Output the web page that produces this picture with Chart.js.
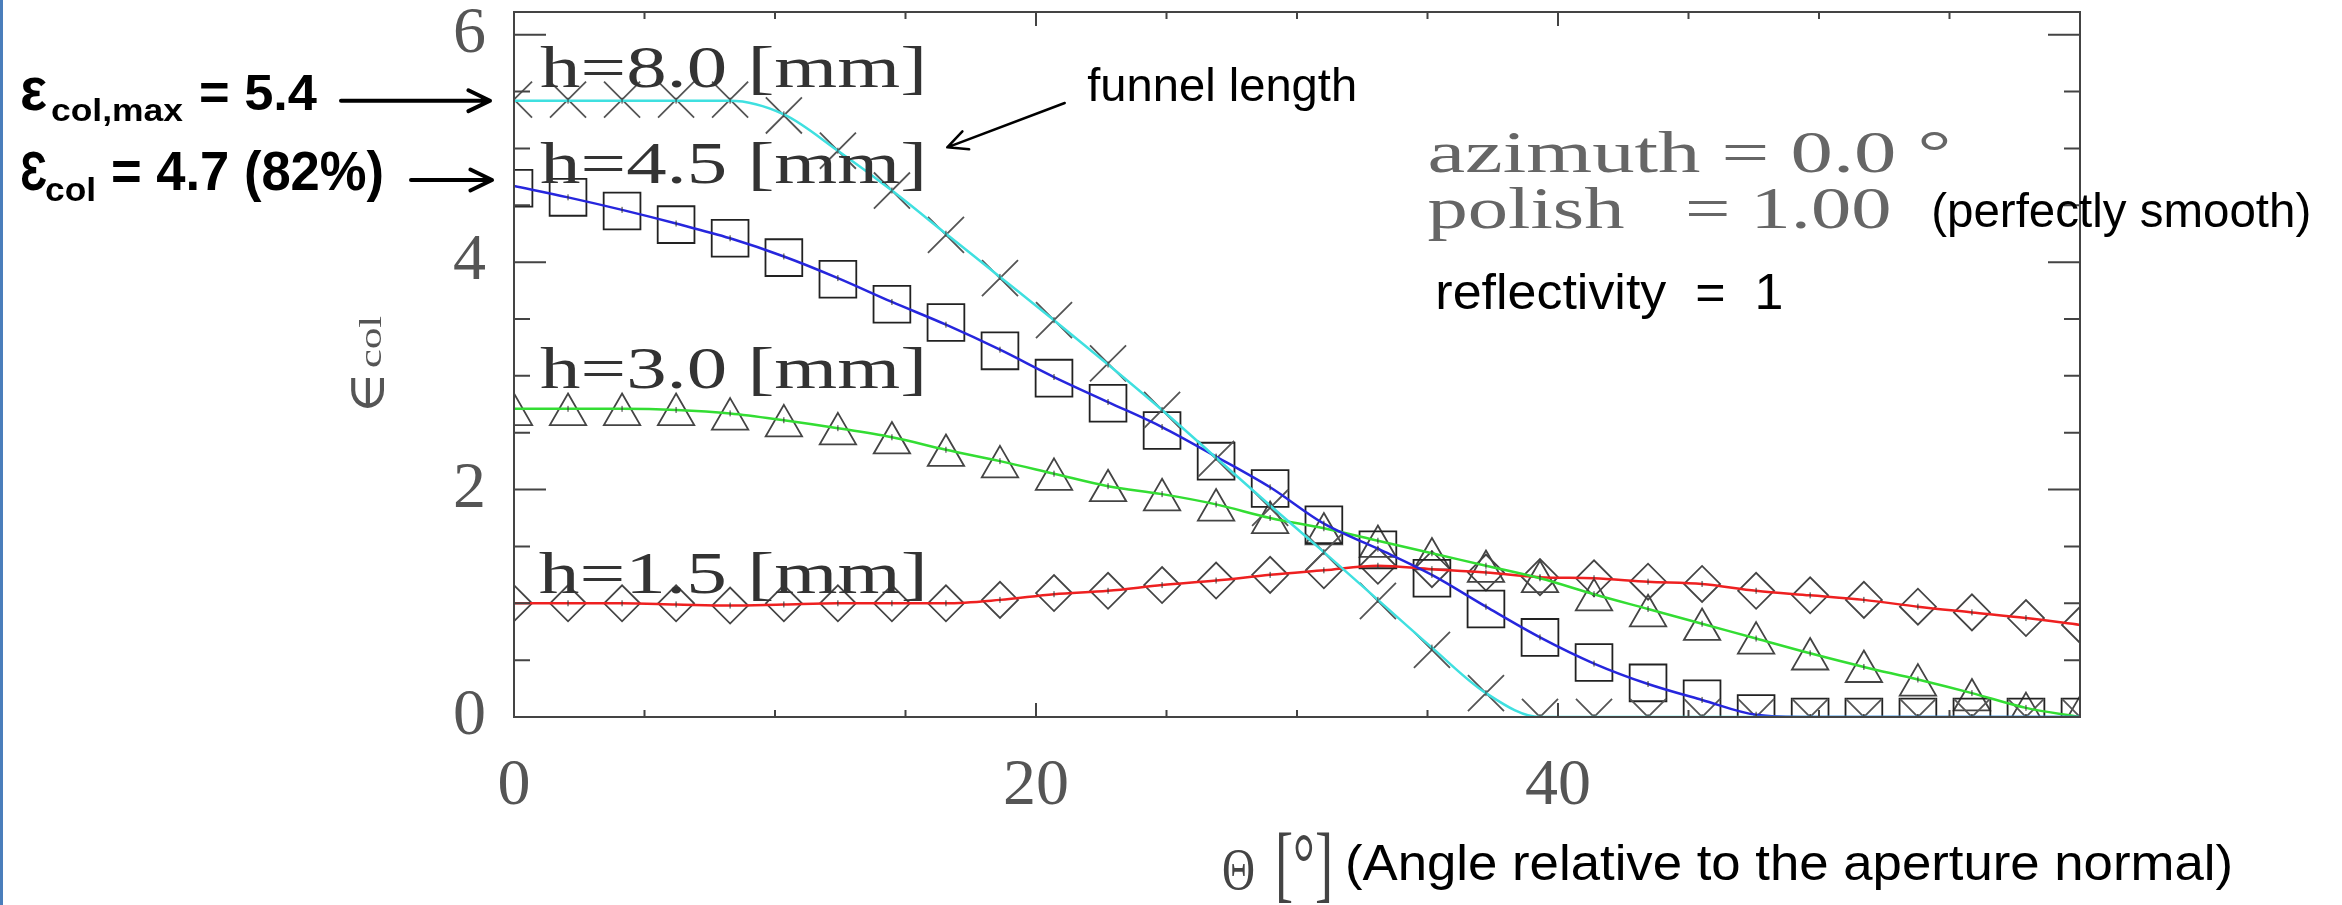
<!DOCTYPE html>
<html lang="en">
<head>
    <meta charset="UTF-8">
    <title>Collection efficiency vs. incidence angle</title>
    <style>
        html, body {
            margin: 0;
            padding: 0;
            background-color: #fff;
        }
        #wrap {
            position: relative;
            width: 2342px;
            height: 905px;
        }
    </style>
    <script src="https://cdn.jsdelivr.net/npm/chart.js"></script>
</head>
<body>
    <div id="wrap"><canvas id="effChart"></canvas></div>

    <script>
        // incidence angle of the simulated points [deg]
        const theta = [0, 2.07, 4.14, 6.21, 8.28, 10.34, 12.41, 14.48, 16.55, 18.62,
                       20.69, 22.76, 24.83, 26.9, 28.97, 31.03, 33.1, 35.17, 37.24, 39.31,
                       41.38, 43.45, 45.52, 47.59, 49.66, 51.72, 53.79, 55.86, 57.93, 60];

        // h = 8.0 mm (crosses, cyan curve)
        const h80Points = [5.43, 5.43, 5.43, 5.43, 5.43, 5.29, 4.98, 4.63, 4.24, 3.86,
                           3.49, 3.11, 2.70, 2.27, 1.84, 1.45, 1.02, 0.59, 0.21, 0,
                           0, 0, 0, 0, 0, 0, 0, 0, 0, 0];
        const h80Curve  = [5.42, 5.42, 5.42, 5.42, 5.42, 5.30, 4.98, 4.63, 4.25, 3.87,
                           3.49, 3.10, 2.70, 2.28, 1.86, 1.45, 1.03, 0.61, 0.21, 0,
                           0, 0, 0, 0, 0, 0, 0, 0, 0, 0];

        // h = 4.5 mm (squares, blue curve)
        const h45Points = [4.65, 4.57, 4.45, 4.33, 4.21, 4.04, 3.85, 3.63, 3.47, 3.22,
                           2.98, 2.76, 2.52, 2.25, 2.01, 1.69, 1.47, 1.22, 0.95, 0.70,
                           0.48, 0.30, 0.16, 0.03, 0, 0, 0, 0, 0, 0];
        const h45Curve  = [4.67, 4.57, 4.46, 4.34, 4.21, 4.05, 3.86, 3.65, 3.45, 3.23,
                           2.99, 2.77, 2.55, 2.29, 2.02, 1.70, 1.48, 1.25, 0.97, 0.70,
                           0.47, 0.29, 0.15, 0.02, 0, 0, 0, 0, 0, 0];

        // h = 3.0 mm (triangles, green curve)
        const h30Points = [2.66, 2.66, 2.66, 2.66, 2.62, 2.56, 2.49, 2.41, 2.30, 2.20,
                           2.09, 1.99, 1.91, 1.82, 1.71, 1.61, 1.50, 1.39, 1.28, 1.19,
                           1.03, 0.89, 0.77, 0.65, 0.51, 0.40, 0.28, 0.15, 0.03, 0];
        const h30Curve  = [2.71, 2.71, 2.71, 2.70, 2.67, 2.61, 2.54, 2.46, 2.35, 2.25,
                           2.14, 2.03, 1.96, 1.87, 1.75, 1.66, 1.55, 1.44, 1.33, 1.22,
                           1.08, 0.95, 0.82, 0.69, 0.56, 0.44, 0.33, 0.21, 0.08, 0];

        // h = 1.5 mm (diamonds, red curve)
        const h15Points = [1.00, 1.00, 1.00, 1.00, 0.98, 1.00, 1.00, 1.00, 1.00, 1.03,
                           1.09, 1.11, 1.16, 1.20, 1.25, 1.29, 1.33, 1.30, 1.27, 1.23,
                           1.22, 1.19, 1.17, 1.11, 1.07, 1.03, 0.97, 0.92, 0.87, 0.81];
        const h15Curve  = [1.00, 1.00, 1.00, 0.99, 0.98, 0.99, 1.00, 1.00, 1.00, 1.03,
                           1.08, 1.11, 1.16, 1.20, 1.25, 1.29, 1.33, 1.30, 1.27, 1.23,
                           1.22, 1.19, 1.17, 1.11, 1.07, 1.03, 0.97, 0.92, 0.87, 0.81];

        const xTickLabels = [0, 20, 40];
        const yTickLabels = [0, 2, 4, 6];

        const curveLabels = ['h=8.0 [mm]', 'h=4.5 [mm]', 'h=3.0 [mm]', 'h=1.5 [mm]'];

        function pts(ys) {
            return theta.map((x, i) => ({ x: x, y: ys[i] }));
        }

        function curve(ys, color) {
            return {
                data: pts(ys),
                showLine: true,
                borderColor: color,
                borderWidth: 2.5,
                cubicInterpolationMode: 'monotone',
                pointStyle: 'line',
                pointRotation: 90,
                pointRadius: 3,
                pointBorderColor: '#333',
                pointBorderWidth: 1,
                clip: 0,
                order: 0
            };
        }

        function markers(ys, style, radius, color) {
            return {
                data: pts(ys),
                showLine: false,
                pointStyle: style,
                pointRadius: radius,
                pointBorderColor: color,
                pointBackgroundColor: 'rgba(0,0,0,0)',
                pointBorderWidth: 1.8,
                clip: 0,
                order: 1
            };
        }

        // stretched text: draws s so that it is w pixels wide
        function txt(ctx, s, x, y, font, color, w) {
            ctx.save();
            ctx.font = font;
            ctx.fillStyle = color;
            ctx.textBaseline = 'alphabetic';
            ctx.textAlign = 'left';
            const m = ctx.measureText(s).width;
            ctx.translate(x, y);
            if (w) ctx.scale(w / m, 1);
            ctx.fillText(s, 0, 0);
            ctx.restore();
        }

        function arrow(ctx, x1, y1, x2, y2, lw, head) {
            const a = Math.atan2(y2 - y1, x2 - x1);
            ctx.save();
            ctx.strokeStyle = '#000';
            ctx.lineWidth = lw;
            ctx.lineCap = 'round';
            ctx.lineJoin = 'round';
            ctx.beginPath();
            ctx.moveTo(x1, y1);
            ctx.lineTo(x2, y2);
            ctx.moveTo(x2 - head * Math.cos(a - 0.45), y2 - head * Math.sin(a - 0.45));
            ctx.lineTo(x2, y2);
            ctx.lineTo(x2 - head * Math.cos(a + 0.45), y2 - head * Math.sin(a + 0.45));
            ctx.stroke();
            ctx.restore();
        }

        const serif = '"Liberation Serif", "DejaVu Serif", serif';
        const sans = '"Liberation Sans", Arial, "DejaVu Sans", sans-serif';

        // inward ticks on all four sides plus the frame
        const frameTicks = {
            id: 'frameTicks',
            afterDatasetsDraw(chart) {
                const ctx = chart.ctx;
                const a = chart.chartArea;
                const xs = chart.scales.x, ys = chart.scales.y;
                ctx.save();
                ctx.strokeStyle = '#444';
                ctx.lineWidth = 2;
                ctx.beginPath();
                xs.ticks.forEach(t => {
                    const px = xs.getPixelForValue(t.value);
                    const len = t.value % 20 === 0 ? 14 : 7;
                    ctx.moveTo(px, a.bottom); ctx.lineTo(px, a.bottom - len);
                    ctx.moveTo(px, a.top); ctx.lineTo(px, a.top + len);
                });
                ys.ticks.forEach(t => {
                    const py = ys.getPixelForValue(t.value);
                    const len = t.value % 2 === 0 ? 32 : 16;
                    ctx.moveTo(a.left, py); ctx.lineTo(a.left + len, py);
                    ctx.moveTo(a.right, py); ctx.lineTo(a.right - len, py);
                });
                ctx.stroke();
                ctx.strokeRect(a.left, a.top, a.right - a.left, a.bottom - a.top);
                ctx.restore();
            },
            afterDraw(chart) {
                const ctx = chart.ctx;
                const xs = chart.scales.x, ys = chart.scales.y;
                const X = v => xs.getPixelForValue(v);
                const Y = v => ys.getPixelForValue(v);

                // slide frame edge
                ctx.fillStyle = '#4a7ebb';
                ctx.fillRect(0, 0, 3, chart.height);

                // curve labels
                txt(ctx, curveLabels[0], X(1.0), Y(5.54), '60px ' + serif, '#333', 387);
                txt(ctx, curveLabels[1], X(1.0), Y(4.70), '60px ' + serif, '#333', 387);
                txt(ctx, curveLabels[2], X(1.0), Y(2.89), '60px ' + serif, '#333', 387);
                txt(ctx, curveLabels[3], X(0.95), Y(1.09), '60px ' + serif, '#333', 389);

                // run parameters
                txt(ctx, 'azimuth = 0.0 \u00b0', X(35.0), Y(4.79), '60px ' + serif, '#666', 524);
                txt(ctx, 'polish   = 1.00', X(35.0), Y(4.30), '60px ' + serif, '#666', 464);
                txt(ctx, '(perfectly smooth)', X(54.3), Y(4.31), '48px ' + sans, '#000', 380);
                txt(ctx, 'reflectivity  =  1', X(35.3), Y(3.59), '50px ' + sans, '#000', 348);

                // funnel length note
                txt(ctx, 'funnel length', X(21.96), Y(5.42), '46px ' + sans, '#000', 270);
                arrow(ctx, X(21.1), Y(5.40), X(16.6), Y(5.01), 2.5, 22);

                // efficiency call-outs on the left
                txt(ctx, '\u03b5', 20, 110, 'bold 62px ' + sans, '#000', 27);
                txt(ctx, 'col,max', 51, 121, 'bold 32px ' + sans, '#000', 132);
                txt(ctx, '= 5.4', 199, 110, 'bold 50px ' + sans, '#000', 118);
                arrow(ctx, 341, Y(5.42), 490, Y(5.42), 4, 24);

                txt(ctx, '\u0190', 20, 190, 'bold 56px ' + sans, '#000', 27);
                txt(ctx, 'col', 45, 201, 'bold 34px ' + sans, '#000', 51);
                txt(ctx, '= 4.7 (82%)', 111, 190, 'bold 56px ' + sans, '#000', 273);
                arrow(ctx, 411, 180, 492, 180, 4, 24);

                // y axis title
                ctx.save();
                ctx.translate(384, 414);
                ctx.rotate(-Math.PI / 2);
                txt(ctx, '\u2208', 0, 0, '52px "DejaVu Serif", serif', '#555', 42);
                txt(ctx, 'col', 46, -3, '32px ' + serif, '#555', 52);
                ctx.restore();

                // x axis title
                txt(ctx, '\u0398', 1222, 889, '60px ' + serif, '#444', 33);
                txt(ctx, '[\u00b0]', 1275, 892, '84px ' + serif, '#444', 58);
                txt(ctx, '(Angle relative to the aperture normal)', 1345, 880, '50px ' + sans, '#000', 888);
            }
        };

        const ctx = document.getElementById('effChart').getContext('2d');

        new Chart(ctx, {
            type: 'scatter',
            data: {
                datasets: [
                    curve(h80Curve, '#3fe0e0'),
                    curve(h45Curve, '#2626dd'),
                    curve(h30Curve, '#33dd33'),
                    curve(h15Curve, '#ee2020'),
                    markers(h80Points, 'crossRot', 25.5, '#555'),
                    markers(h45Points, 'rect', 26, '#222'),
                    markers(h30Points, 'triangle', 21, '#444'),
                    markers(h15Points, 'rectRot', 18, '#444')
                ]
            },
            options: {
                responsive: true,
                maintainAspectRatio: false,
                animation: false,
                layout: {
                    autoPadding: false,
                    padding: { left: 0, top: 12, right: 262, bottom: 0 }
                },
                plugins: {
                    legend: { display: false },
                    tooltip: { enabled: false }
                },
                scales: {
                    x: {
                        type: 'linear',
                        min: 0,
                        max: 60,
                        afterFit: s => {
                            s.height = 188;
                            s.paddingLeft = 0;
                            s.paddingRight = 0;
                        },
                        grid: { display: false, drawTicks: false },
                        border: { display: false },
                        ticks: {
                            stepSize: 5,
                            autoSkip: false,
                            maxRotation: 0,
                            minRotation: 0,
                            padding: 30,
                            color: '#555',
                            font: { family: serif, size: 66 },
                            callback: v => xTickLabels.includes(v) ? String(v) : ''
                        }
                    },
                    y: {
                        type: 'linear',
                        min: 0,
                        max: 6.2,
                        afterFit: s => {
                            s.width = 514;
                            s.paddingTop = 0;
                            s.paddingBottom = 0;
                        },
                        grid: { display: false, drawTicks: false },
                        border: { display: false },
                        ticks: {
                            stepSize: 0.5,
                            autoSkip: false,
                            includeBounds: false,
                            padding: 28,
                            color: '#555',
                            font: { family: serif, size: 66, lineHeight: 0.3 },
                            callback: v => yTickLabels.includes(v) ? String(v) : ''
                        }
                    }
                }
            },
            plugins: [frameTicks]
        });
    </script>
</body>
</html>
